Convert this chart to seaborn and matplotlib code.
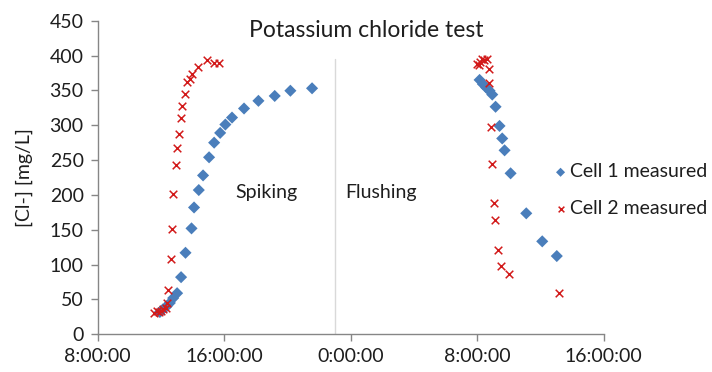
import matplotlib
matplotlib.use("Agg")
import matplotlib.pyplot as plt
import seaborn as sns
import pandas as pd

# Clock time in hours counted from midnight of the first day
cell1_time = [11.94, 12.14, 12.36, 12.57, 12.78, 13.03, 13.28, 13.56, 13.94, 14.10,
              14.40, 14.67, 15.05, 15.37, 15.75, 16.08, 16.50, 17.26, 18.17, 19.20,
              20.19, 21.56,
              32.15, 32.36, 32.57, 32.78, 32.95, 33.16, 33.41, 33.58, 33.73, 34.11,
              35.10, 36.11, 37.03]
cell1_cl = [32, 36, 40, 45, 52, 59, 82, 117, 152, 182,
            207, 228, 254, 275, 289, 301, 311, 324, 335, 342,
            349.5, 353,
            365, 359, 354, 349.5, 344, 326.5, 299, 281, 264, 231,
            173.6, 133.4, 112.3]

cell2_time = [11.60, 11.75, 11.90, 12.00, 12.15, 12.30, 12.40, 12.46, 12.63, 12.69,
              12.80, 12.93, 13.01, 13.14, 13.26, 13.37, 13.51, 13.68, 13.83, 13.98,
              14.36, 14.89, 15.37, 15.68,
              31.98, 32.09, 32.15, 32.32, 32.46, 32.61, 32.74, 32.74, 32.85, 32.93,
              33.03, 33.12, 33.31, 33.52, 33.98, 37.20]
cell2_cl = [30, 33, 32, 34, 36, 38, 45, 63.6, 107.6, 151.5,
            202, 243, 268, 288, 310, 327, 345, 362, 367, 373,
            384, 393, 390, 389,
            388, 386, 391, 394.5, 393.5, 394.5, 380, 360, 298, 245,
            189, 164, 121, 98, 86, 59]

# Switch from spiking to flushing
switch_time = 23.0
switch_top = 395

tick_hours = [8, 16, 24, 32, 40]
tick_labels = ["8:00:00", "16:00:00", "0:00:00", "8:00:00", "16:00:00"]

df1 = pd.DataFrame({"time": cell1_time, "cl": cell1_cl})
df2 = pd.DataFrame({"time": cell2_time, "cl": cell2_cl})

sns.set_style("white")
plt.rcParams["font.family"] = ["Lato", "DejaVu Sans"]

fig = plt.figure(figsize=(7.12, 3.72), dpi=100)
ax = fig.add_axes([0.137, 0.1013, 0.711, 0.8431])

axis_grey = "#868686"
text_col = "#1e1e1e"
ax.plot([switch_time, switch_time], [0, switch_top], color="#d9d9d9", lw=1, zorder=1)

sns.scatterplot(data=df1, x="time", y="cl", ax=ax, marker="D", s=38,
                color="#4a7ebb", edgecolor="none", label="Cell 1 measured", zorder=3)
sns.scatterplot(data=df2, x="time", y="cl", ax=ax, marker="x", s=30,
                color="#d21a1a", linewidth=1.1, label="Cell 2 measured", zorder=4)

ax.set_xlim(8, 40)
ax.set_ylim(0, 450)
ax.set_xticks(tick_hours)
ax.set_xticklabels(tick_labels)
ax.set_yticks(range(0, 451, 50))
ax.set_xlabel("")
ax.set_ylabel("[Cl-] [mg/L]", fontsize=14, color=text_col, labelpad=12)

for side in ["top", "right"]:
    ax.spines[side].set_visible(False)
for side in ["left", "bottom"]:
    ax.spines[side].set_color(axis_grey)
    ax.spines[side].set_linewidth(1)
ax.tick_params(axis="both", which="both", direction="out", length=5, width=1,
               color=axis_grey, labelsize=14, labelcolor=text_col, pad=5,
               bottom=True, left=True)

fig.text(0.514, 0.919, "Potassium chloride test", ha="center", va="center",
         fontsize=16.5, color=text_col)
ax.text(18.66, 204, "Spiking", ha="center", va="center", fontsize=14, color=text_col)
ax.text(25.93, 204, "Flushing", ha="center", va="center", fontsize=14, color=text_col)

leg = ax.legend(loc="center left", bbox_to_anchor=(0.775, 0.489), bbox_transform=fig.transFigure,
                frameon=False, fontsize=14, handletextpad=0.05, handlelength=0.9,
                labelspacing=1.0, borderaxespad=0, borderpad=0, markerscale=0.75)
for t in leg.get_texts():
    t.set_color(text_col)

fig.savefig("out.png", dpi=100, facecolor="white")
